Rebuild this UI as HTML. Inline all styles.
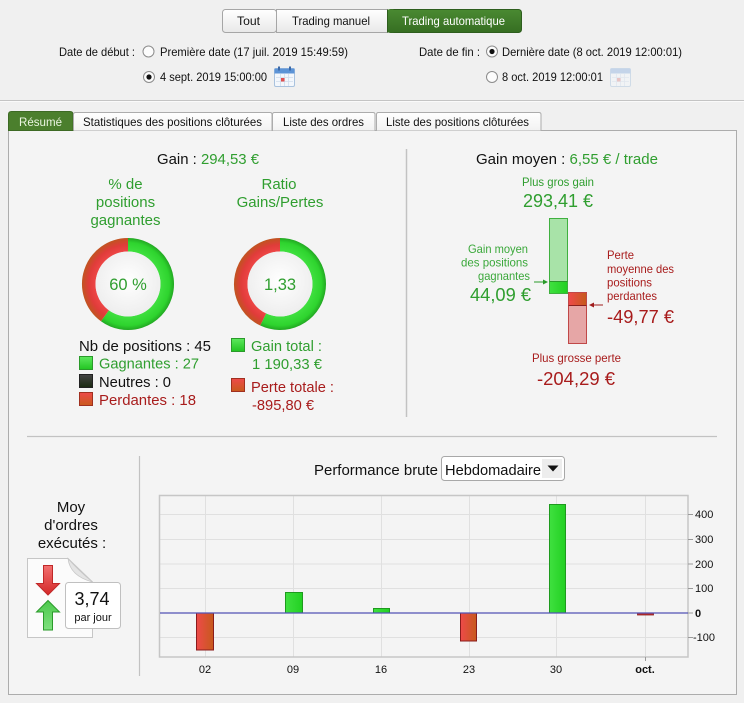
<!DOCTYPE html>
<html><head><meta charset="utf-8"><style>
html,body{margin:0;padding:0;background:#f0f0f0;width:744px;height:703px;overflow:hidden;}
svg{display:block;font-family:"Liberation Sans",Arial,sans-serif;}
</style></head><body>
<svg width="744" height="703" viewBox="0 0 744 703" xmlns="http://www.w3.org/2000/svg">
<defs>
<linearGradient id="btn" x1="0" y1="0" x2="0" y2="1"><stop offset="0" stop-color="#ffffff"/><stop offset="1" stop-color="#e8e8e8"/></linearGradient>
<linearGradient id="btnG" x1="0" y1="0" x2="0" y2="1"><stop offset="0" stop-color="#4a8a32"/><stop offset="1" stop-color="#366e22"/></linearGradient>
<linearGradient id="tabW" x1="0" y1="0" x2="0" y2="1"><stop offset="0" stop-color="#ffffff"/><stop offset="1" stop-color="#f2f2f2"/></linearGradient>
<linearGradient id="redH" x1="0" y1="0" x2="1" y2="0"><stop offset="0" stop-color="#ee4a4a"/><stop offset="1" stop-color="#c65a1c"/></linearGradient>
<linearGradient id="grnH" x1="0" y1="0" x2="1" y2="0"><stop offset="0" stop-color="#3fe03f"/><stop offset="1" stop-color="#22d022"/></linearGradient>
<linearGradient id="sqG" x1="0" y1="0" x2="0" y2="1"><stop offset="0" stop-color="#5ee85e"/><stop offset="1" stop-color="#22c422"/></linearGradient>
<linearGradient id="sqR" x1="0" y1="0" x2="0" y2="1"><stop offset="0" stop-color="#ee4a4a"/><stop offset="1" stop-color="#c85a1c"/></linearGradient>
<linearGradient id="sqK" x1="0" y1="0" x2="0" y2="1"><stop offset="0" stop-color="#444"/><stop offset="1" stop-color="#1a2a10"/></linearGradient>
<linearGradient id="arR" x1="0" y1="0" x2="0" y2="1"><stop offset="0" stop-color="#f27070"/><stop offset="1" stop-color="#d42828"/></linearGradient>
<linearGradient id="arG" x1="0" y1="0" x2="0" y2="1"><stop offset="0" stop-color="#4cc84c"/><stop offset="1" stop-color="#7ee07e"/></linearGradient>
<radialGradient id="rg1" gradientUnits="userSpaceOnUse" cx="128" cy="284" r="46"><stop offset="0.7" stop-color="#40e040"/><stop offset="0.9" stop-color="#2ed42e"/><stop offset="1" stop-color="#22a822"/></radialGradient>
<radialGradient id="rr1" gradientUnits="userSpaceOnUse" cx="128" cy="284" r="46"><stop offset="0.7" stop-color="#ee4646"/><stop offset="0.85" stop-color="#e03c3a"/><stop offset="1" stop-color="#c05420"/></radialGradient>
<radialGradient id="rg2" gradientUnits="userSpaceOnUse" cx="280" cy="284" r="46"><stop offset="0.7" stop-color="#40e040"/><stop offset="0.9" stop-color="#2ed42e"/><stop offset="1" stop-color="#22a822"/></radialGradient>
<radialGradient id="rr2" gradientUnits="userSpaceOnUse" cx="280" cy="284" r="46"><stop offset="0.7" stop-color="#ee4646"/><stop offset="0.85" stop-color="#e03c3a"/><stop offset="1" stop-color="#c05420"/></radialGradient>
<radialGradient id="inner" cx="0.5" cy="0.45" r="0.6"><stop offset="0" stop-color="#ffffff"/><stop offset="1" stop-color="#ececec"/></radialGradient>
</defs>

<!-- top area -->
<rect x="0" y="0" width="744" height="703" fill="#f0f0f0"/>
<!-- buttons -->
<rect x="222.5" y="9.5" width="54" height="23" rx="3" fill="url(#btn)" stroke="#a6a6a6"/>
<rect x="276.5" y="9.5" width="111" height="23" fill="url(#btn)" stroke="#a6a6a6"/>
<rect x="387.5" y="9.5" width="134" height="23" rx="3" fill="url(#btnG)" stroke="#2e5e1e"/>
<rect x="387.5" y="9.5" width="6" height="23" fill="url(#btnG)"/>
<line x1="387.5" y1="9.5" x2="387.5" y2="32.5" stroke="#2e5e1e"/>
<g font-size="12" fill="#111">
<text x="237" y="25" textLength="23" lengthAdjust="spacingAndGlyphs">Tout</text>
<text x="292" y="25" textLength="78" lengthAdjust="spacingAndGlyphs">Trading manuel</text>
<text x="402" y="25" textLength="103" lengthAdjust="spacingAndGlyphs" fill="#ffffff">Trading automatique</text>

<text x="59" y="56" textLength="76" lengthAdjust="spacingAndGlyphs">Date de début :</text>
<text x="160" y="56" textLength="188" lengthAdjust="spacingAndGlyphs">Première date (17 juil. 2019 15:49:59)</text>
<text x="419" y="56" textLength="61" lengthAdjust="spacingAndGlyphs">Date de fin :</text>
<text x="502" y="56" textLength="180" lengthAdjust="spacingAndGlyphs">Dernière date (8 oct. 2019 12:00:01)</text>
<text x="160" y="81" textLength="107" lengthAdjust="spacingAndGlyphs">4 sept. 2019 15:00:00</text>
<text x="502" y="81" textLength="101" lengthAdjust="spacingAndGlyphs">8 oct. 2019 12:00:01</text>
</g>
<!-- radios -->
<g stroke="#8c8c8c" fill="#fcfcfc">
<circle cx="148.5" cy="51.5" r="5.5"/>
<circle cx="492" cy="51.5" r="5.5"/>
<circle cx="149" cy="77" r="5.5"/>
<circle cx="492" cy="77" r="5.5"/>
</g>
<circle cx="492" cy="51.5" r="2.6" fill="#111"/>
<circle cx="149" cy="77" r="2.6" fill="#111"/>
<!-- calendars -->
<g>
<rect x="274.5" y="68.5" width="20" height="18" rx="1.5" fill="#f3f7fc" stroke="#a9c2de"/>
<rect x="274.5" y="68.5" width="20" height="5" fill="#5c93d6"/>
<rect x="278" y="66.5" width="2" height="4" fill="#3c6aa8"/>
<rect x="289" y="66.5" width="2" height="4" fill="#3c6aa8"/>
<g stroke="#d0dcec" stroke-width="0.8"><line x1="276" y1="77.5" x2="293" y2="77.5"/><line x1="276" y1="81.5" x2="293" y2="81.5"/><line x1="280.5" y1="74" x2="280.5" y2="86"/><line x1="284.5" y1="74" x2="284.5" y2="86"/><line x1="288.5" y1="74" x2="288.5" y2="86"/></g>
<rect x="281" y="78" width="3.5" height="3.5" fill="#e05050"/>
</g>
<g opacity="0.45">
<rect x="610.5" y="68.5" width="20" height="18" rx="1.5" fill="#f3f7fc" stroke="#a9c2de"/>
<rect x="610.5" y="68.5" width="20" height="5" fill="#8fb4e2"/>
<g stroke="#d0dcec" stroke-width="0.8"><line x1="612" y1="77.5" x2="629" y2="77.5"/><line x1="612" y1="81.5" x2="629" y2="81.5"/><line x1="616.5" y1="74" x2="616.5" y2="86"/><line x1="620.5" y1="74" x2="620.5" y2="86"/><line x1="624.5" y1="74" x2="624.5" y2="86"/></g>
<rect x="617" y="78" width="3.5" height="3.5" fill="#e09090"/>
</g>
<!-- separator -->
<line x1="0" y1="100.5" x2="744" y2="100.5" stroke="#c4c4c4"/>
<line x1="0" y1="101.5" x2="744" y2="101.5" stroke="#fafafa"/>

<!-- panel -->
<rect x="8.5" y="130.5" width="728" height="564" fill="#f4f4f4" stroke="#acacac"/>
<!-- tabs -->
<path d="M8.5 130.5 V114.5 Q8.5 111.5 11.5 111.5 H70 Q73 111.5 73 114.5 V130.5 Z" fill="#4b7f2d" stroke="#3d6a24"/>
<path d="M73.5 130.5 V114.5 Q73.5 112.5 75.5 112.5 H270 Q272 112.5 272 114.5 V130.5" fill="url(#tabW)" stroke="#acacac"/>
<path d="M272.5 130.5 V114.5 Q272.5 112.5 274.5 112.5 H373 Q375 112.5 375 114.5 V130.5" fill="url(#tabW)" stroke="#acacac"/>
<path d="M376.5 130.5 V114.5 Q376.5 112.5 378.5 112.5 H539 Q541 112.5 541 114.5 V130.5" fill="url(#tabW)" stroke="#acacac"/>
<g font-size="12" fill="#111">
<text x="19" y="126" textLength="43" lengthAdjust="spacingAndGlyphs" fill="#eaf5e0">Résumé</text>
<text x="83" y="126" textLength="179" lengthAdjust="spacingAndGlyphs">Statistiques des positions clôturées</text>
<text x="283" y="126" textLength="81" lengthAdjust="spacingAndGlyphs">Liste des ordres</text>
<text x="386" y="126" textLength="143" lengthAdjust="spacingAndGlyphs">Liste des positions clôturées</text>
</g>

<!-- dividers -->
<line x1="406.5" y1="149" x2="406.5" y2="417" stroke="#c2c2c2" stroke-width="1.5"/>
<line x1="27" y1="436.5" x2="717" y2="436.5" stroke="#c2c2c2" stroke-width="1.2"/>
<line x1="139.5" y1="456" x2="139.5" y2="676" stroke="#c2c2c2" stroke-width="1.2"/>

<!-- Left: Gain -->
<text x="157" y="164" font-size="15" textLength="102" lengthAdjust="spacingAndGlyphs" fill="#111">Gain : <tspan fill="#2f9e2f">294,53 €</tspan></text>
<g font-size="15" fill="#2f9e2f" text-anchor="middle">
<text x="125.5" y="189">% de</text>
<text x="125.5" y="207">positions</text>
<text x="125.5" y="225">gagnantes</text>
<text x="279" y="189">Ratio</text>
<text x="280" y="207">Gains/Pertes</text>
</g>
<!-- donut 1 -->
<circle cx="128" cy="284" r="46" fill="#e6e6e6"/>
<path d="M128 244.75 A39.25 39.25 0 1 1 104.93 315.75" fill="none" stroke="url(#rg1)" stroke-width="13.5"/>
<path d="M104.93 315.75 A39.25 39.25 0 0 1 128 244.75" fill="none" stroke="url(#rr1)" stroke-width="13.5"/>
<circle cx="128" cy="284" r="32.5" fill="url(#inner)"/>
<text x="128" y="290" font-size="16.5" fill="#2f9e2f" text-anchor="middle">60 %</text>
<!-- donut 2 -->
<circle cx="280" cy="284" r="46" fill="#e6e6e6"/>
<path d="M280 244.75 A39.25 39.25 0 1 1 263.17 319.46" fill="none" stroke="url(#rg2)" stroke-width="13.5"/>
<path d="M263.17 319.46 A39.25 39.25 0 0 1 280 244.75" fill="none" stroke="url(#rr2)" stroke-width="13.5"/>
<circle cx="280" cy="284" r="32.5" fill="url(#inner)"/>
<text x="280" y="290" font-size="16.5" fill="#2f9e2f" text-anchor="middle">1,33</text>

<!-- legends -->
<g font-size="15">
<text x="79" y="351" textLength="132" lengthAdjust="spacingAndGlyphs" fill="#111">Nb de positions : 45</text>
<rect x="79.5" y="356.5" width="13" height="13" fill="url(#sqG)" stroke="#2a9a2a"/>
<text x="99" y="368.5" textLength="100" lengthAdjust="spacingAndGlyphs" fill="#2f9e2f">Gagnantes : 27</text>
<rect x="79.5" y="374.5" width="13" height="13" fill="url(#sqK)" stroke="#222"/>
<text x="99" y="387" textLength="72" lengthAdjust="spacingAndGlyphs" fill="#111">Neutres : 0</text>
<rect x="79.5" y="392.5" width="13" height="13" fill="url(#sqR)" stroke="#a03020"/>
<text x="99" y="405" textLength="97" lengthAdjust="spacingAndGlyphs" fill="#a81c1c">Perdantes : 18</text>

<rect x="231.5" y="338.5" width="13" height="13" fill="url(#sqG)" stroke="#2a9a2a"/>
<text x="251" y="351" textLength="71" lengthAdjust="spacingAndGlyphs" fill="#2f9e2f">Gain total :</text>
<text x="252" y="369" textLength="70" lengthAdjust="spacingAndGlyphs" fill="#2f9e2f">1 190,33 €</text>
<rect x="231.5" y="378.5" width="13" height="13" fill="url(#sqR)" stroke="#a03020"/>
<text x="251" y="392" textLength="83" lengthAdjust="spacingAndGlyphs" fill="#a81c1c">Perte totale :</text>
<text x="252" y="410" textLength="62" lengthAdjust="spacingAndGlyphs" fill="#a81c1c">-895,80 €</text>
</g>

<!-- Right: gain moyen -->
<text x="476" y="164" font-size="15" textLength="182" lengthAdjust="spacingAndGlyphs" fill="#111">Gain moyen : <tspan fill="#2f9e2f">6,55 € / trade</tspan></text>
<text x="522" y="186" font-size="12" textLength="72" lengthAdjust="spacingAndGlyphs" fill="#2f9e2f">Plus gros gain</text>
<text x="523" y="207" font-size="18" textLength="70" lengthAdjust="spacingAndGlyphs" fill="#2f9e2f">293,41 €</text>
<g font-size="12" fill="#3aa83a">
<text x="468" y="253" textLength="60" lengthAdjust="spacingAndGlyphs">Gain moyen</text>
<text x="461" y="266.5" textLength="67" lengthAdjust="spacingAndGlyphs">des positions</text>
<text x="478" y="280" textLength="52" lengthAdjust="spacingAndGlyphs">gagnantes</text>
</g>
<text x="470" y="301" font-size="18" textLength="61" lengthAdjust="spacingAndGlyphs" fill="#2f9e2f">44,09 €</text>
<g font-size="12" fill="#a81c1c">
<text x="607" y="259" textLength="27" lengthAdjust="spacingAndGlyphs">Perte</text>
<text x="607" y="273" textLength="67" lengthAdjust="spacingAndGlyphs">moyenne des</text>
<text x="607" y="286.5" textLength="45" lengthAdjust="spacingAndGlyphs">positions</text>
<text x="607" y="300" textLength="50" lengthAdjust="spacingAndGlyphs">perdantes</text>
</g>
<text x="607" y="323" font-size="18" textLength="67" lengthAdjust="spacingAndGlyphs" fill="#a81c1c">-49,77 €</text>
<text x="532" y="362" font-size="12" textLength="89" lengthAdjust="spacingAndGlyphs" fill="#a81c1c">Plus grosse perte</text>
<text x="537" y="385" font-size="18" textLength="78" lengthAdjust="spacingAndGlyphs" fill="#a81c1c">-204,29 €</text>
<!-- middle bars -->
<rect x="549.5" y="218.5" width="18" height="75" fill="#a8e3a8" stroke="#3fb03f"/>
<rect x="550" y="282" width="17" height="11" fill="url(#grnH)"/>
<line x1="549.5" y1="281.5" x2="567.5" y2="281.5" stroke="#2a9a2a"/>
<rect x="568.5" y="292.5" width="18" height="51" fill="#e6a6a6" stroke="#c04848"/>
<rect x="569" y="293" width="17" height="12" fill="url(#redH)"/>
<line x1="568.5" y1="305.5" x2="586.5" y2="305.5" stroke="#8a2020"/>
<!-- arrows -->
<line x1="534" y1="282" x2="545" y2="282" stroke="#2a9a2a" stroke-width="1"/>
<path d="M548 282 L543 279.5 L543 284.5 Z" fill="#2a9a2a"/>
<line x1="592" y1="305" x2="603" y2="305" stroke="#a01c1c" stroke-width="1"/>
<path d="M589 305 L594 302.5 L594 307.5 Z" fill="#a01c1c"/>

<!-- bottom left -->
<g font-size="15" fill="#111" text-anchor="middle">
<text x="71" y="512">Moy</text>
<text x="71" y="530">d'ordres</text>
<text x="72" y="548">exécutés :</text>
</g>
<path d="M27.5 558.5 H68 L92.5 582 V637.5 H27.5 Z" fill="#fbfbfb" stroke="#c6c6c6"/>
<path d="M68 558.5 Q70 576 92.5 582 Q78 570 68 558.5 Z" fill="#e4e4e4" stroke="#c6c6c6" stroke-width="0.8"/>
<path d="M43.5 565.5 H52.5 V583.5 H59.5 L48 595 L36.5 583.5 H43.5 Z" fill="url(#arR)" stroke="#c02828"/>
<path d="M48 600.5 L59.5 612 H52.5 V630 H43.5 V612 H36.5 Z" fill="url(#arG)" stroke="#2a9a2a"/>
<rect x="65.5" y="582.5" width="55" height="46" rx="3" fill="#ffffff" stroke="#c0c0c0"/>
<text x="92" y="605" font-size="18" fill="#111" text-anchor="middle">3,74</text>
<text x="93" y="621" font-size="11" fill="#111" text-anchor="middle">par jour</text>

<!-- performance header -->
<text x="314" y="475" font-size="15" textLength="124" lengthAdjust="spacingAndGlyphs" fill="#111">Performance brute</text>
<rect x="441.5" y="456.5" width="123" height="24" rx="3" fill="#ffffff" stroke="#a8a8a8"/>
<rect x="542" y="459" width="20" height="19" fill="#ededed"/>
<path d="M547.5 465.5 L558.5 465.5 L553 471.5 Z" fill="#111"/>
<text x="445" y="475" font-size="15" textLength="96" lengthAdjust="spacingAndGlyphs" fill="#111">Hebdomadaire</text>

<!-- chart -->
<g stroke="#e0e0e0" stroke-width="1">
<line x1="160" y1="514.5" x2="688" y2="514.5"/>
<line x1="160" y1="539.5" x2="688" y2="539.5"/>
<line x1="160" y1="564" x2="688" y2="564"/>
<line x1="160" y1="588.5" x2="688" y2="588.5"/>
<line x1="160" y1="637.5" x2="688" y2="637.5"/>
<line x1="205.5" y1="496" x2="205.5" y2="657"/>
<line x1="293.5" y1="496" x2="293.5" y2="657"/>
<line x1="381.5" y1="496" x2="381.5" y2="657"/>
<line x1="469.5" y1="496" x2="469.5" y2="657"/>
<line x1="556.5" y1="496" x2="556.5" y2="657"/>
<line x1="645.5" y1="496" x2="645.5" y2="657"/>
</g>
<rect x="159.5" y="495.5" width="528.5" height="161.5" fill="none" stroke="#c6c6c6" stroke-width="1.5"/>
<!-- bars -->
<rect x="196.5" y="613" width="17" height="37" fill="url(#redH)" stroke="#8a1c1c"/>
<rect x="285.5" y="592.5" width="17" height="20.5" fill="url(#grnH)" stroke="#1e9a1e"/>
<rect x="373.5" y="608.5" width="16" height="4.5" fill="url(#grnH)" stroke="#1e9a1e"/>
<rect x="460.5" y="613" width="16" height="28" fill="url(#redH)" stroke="#8a1c1c"/>
<rect x="549.5" y="504.5" width="16" height="108.5" fill="url(#grnH)" stroke="#1e9a1e"/>
<rect x="637.5" y="613" width="16" height="2" fill="#c03030" stroke="#8a1c1c" stroke-width="0.8"/>
<line x1="160" y1="613" x2="688" y2="613" stroke="#5252b4" stroke-width="1.2"/>
<!-- ticks -->
<g stroke="#9a9a9a">
<line x1="688" y1="514.5" x2="693" y2="514.5"/>
<line x1="688" y1="539.5" x2="693" y2="539.5"/>
<line x1="688" y1="564" x2="693" y2="564"/>
<line x1="688" y1="588.5" x2="693" y2="588.5"/>
<line x1="688" y1="613" x2="693" y2="613"/>
<line x1="688" y1="637.5" x2="693" y2="637.5"/>
<line x1="645.5" y1="657" x2="645.5" y2="661"/>
</g>
<g font-size="11" fill="#111">
<text x="695" y="518">400</text>
<text x="695" y="543">300</text>
<text x="695" y="568">200</text>
<text x="695" y="592">100</text>
<text x="695" y="617" font-weight="bold">0</text>
<text x="693" y="641">-100</text>
</g>
<g font-size="11" fill="#111" text-anchor="middle">
<text x="205" y="673">02</text>
<text x="293" y="673">09</text>
<text x="381" y="673">16</text>
<text x="469" y="673">23</text>
<text x="556" y="673">30</text>
<text x="645" y="673" font-weight="bold">oct.</text>
</g>
</svg>
</body></html>
